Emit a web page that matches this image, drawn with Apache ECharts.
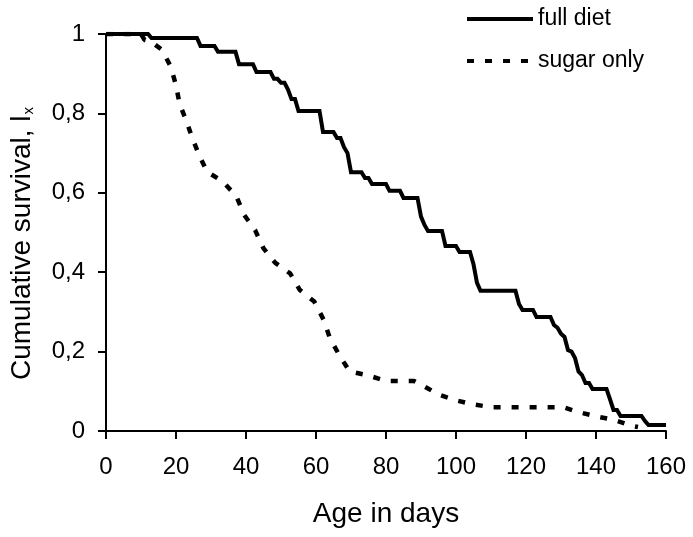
<!DOCTYPE html>
<html>
<head>
<meta charset="utf-8">
<script src="https://cdn.jsdelivr.net/npm/echarts@6/dist/echarts.min.js"></script>
<style>
html,body{margin:0;padding:0;background:#fff;}
#c{width:693px;height:537px;}
</style>
</head>
<body>
<div id="c"></div>
<script>
// Day / survival pairs
const fullDays = [0,12,13,26,27,31,32,37,38,42,43,47,48,49,50,51,52,53,54,55,61,62,65,66,67,68,69,70,73,74,75,76,80,81,84,85,89,90,91,92,96,97,100,101,104,105,106,107,117,118,119,122,123,127,128,129,130,131,132,133,134,135,136,137,138,139,143,144,145,146,147,153,154,155,160];
const fullSurv = [1,1,0.99,0.99,0.97,0.97,0.955,0.955,0.924,0.924,0.904,0.904,0.887,0.887,0.877,0.877,0.86,0.836,0.836,0.806,0.806,0.753,0.753,0.738,0.738,0.715,0.70,0.652,0.652,0.637,0.637,0.622,0.622,0.605,0.605,0.587,0.587,0.54,0.519,0.504,0.504,0.466,0.466,0.451,0.451,0.42,0.373,0.353,0.353,0.32,0.305,0.305,0.287,0.287,0.267,0.26,0.245,0.237,0.204,0.2,0.184,0.15,0.141,0.121,0.121,0.106,0.106,0.08,0.053,0.053,0.038,0.038,0.025,0.015,0.015];

const sugarDays = [0,10,11,13,16,18.5,20,21,23,24.7,26.6,28.9,33.4,37.2,39.5,42.6,45,48.3,52.6,55.4,59.5,62.2,64,66.8,69.6,75.3,80,88,90.4,95,99.7,104.4,109.8,130.6,135.3,140.5,145.2,150.2,152];
const sugarSurv = [1,1,0.985,0.98,0.96,0.918,0.871,0.825,0.78,0.737,0.695,0.653,0.628,0.592,0.544,0.506,0.46,0.424,0.397,0.355,0.326,0.28,0.233,0.189,0.15,0.139,0.126,0.126,0.115,0.092,0.078,0.068,0.06,0.06,0.047,0.036,0.028,0.013,0.01];

const xTicks = {min:0, max:160, interval:20};
const yTicks = {min:0, max:1, interval:0.2};

const pairs = (xs, ys) => xs.map((x, i) => [x, ys[i]]);
const FONT = 'Liberation Sans, Arial, sans-serif';

const chart = echarts.init(document.getElementById('c'));
chart.setOption({
  animation: false,
  backgroundColor: '#fff',
  textStyle: {fontFamily: FONT, color: '#000'},
  grid: {left: 103, right: 27, top: 34, bottom: 106, containLabel: false},
  legend: {
    orient: 'vertical',
    left: 460, top: 1,
    itemWidth: 66, itemHeight: 14, itemGap: 16,
    itemStyle: {opacity: 0},
    lineStyle: {width: 4},
    textStyle: {fontFamily: FONT, fontSize: 23, color: '#000', lineHeight: 26},
    data: ['full diet', 'sugar only']
  },
  xAxis: {
    type: 'value', min: xTicks.min, max: xTicks.max, interval: xTicks.interval,
    name: 'Age in days', nameLocation: 'middle', nameGap: 69,
    nameTextStyle: {fontFamily: FONT, fontSize: 28, color: '#000'},
    axisLine: {lineStyle: {color: '#000', width: 2}},
    axisTick: {length: 8, lineStyle: {color: '#000', width: 2}},
    axisLabel: {fontFamily: FONT, fontSize: 24, color: '#000', margin: 24},
    splitLine: {show: false}
  },
  yAxis: {
    type: 'value', min: yTicks.min, max: yTicks.max, interval: yTicks.interval,
    name: 'Cumulative survival, l{sub|x}', nameLocation: 'middle', nameGap: 70, nameRotate: 90,
    nameTextStyle: {fontFamily: FONT, fontSize: 28, color: '#000', padding: [0, 22, 0, 0],
      rich: {sub: {fontFamily: FONT, fontSize: 15, color: '#000', verticalAlign: 'bottom', padding: [10, 0, 0, 1]}}},
    axisLine: {show: true, lineStyle: {color: '#000', width: 2}},
    axisTick: {show: true, length: 8, lineStyle: {color: '#000', width: 2}},
    axisLabel: {fontFamily: FONT, fontSize: 24, color: '#000', margin: 21,
      formatter: v => String(Math.round(v * 10) / 10).replace('.', ',')},
    splitLine: {show: false}
  },
  series: [
    {
      name: 'full diet', type: 'line', symbol: 'none', showSymbol: false,
      data: pairs(fullDays, fullSurv),
      lineStyle: {color: '#000', width: 4, type: 'solid', join: 'miter'},
      itemStyle: {color: '#000'}
    },
    {
      name: 'sugar only', type: 'line', symbol: 'none', showSymbol: false,
      data: pairs(sugarDays, sugarSurv),
      lineStyle: {color: '#000', width: 4.5, type: [7, 11]},
      itemStyle: {color: '#000'}
    }
  ]
});
</script>
</body>
</html>
